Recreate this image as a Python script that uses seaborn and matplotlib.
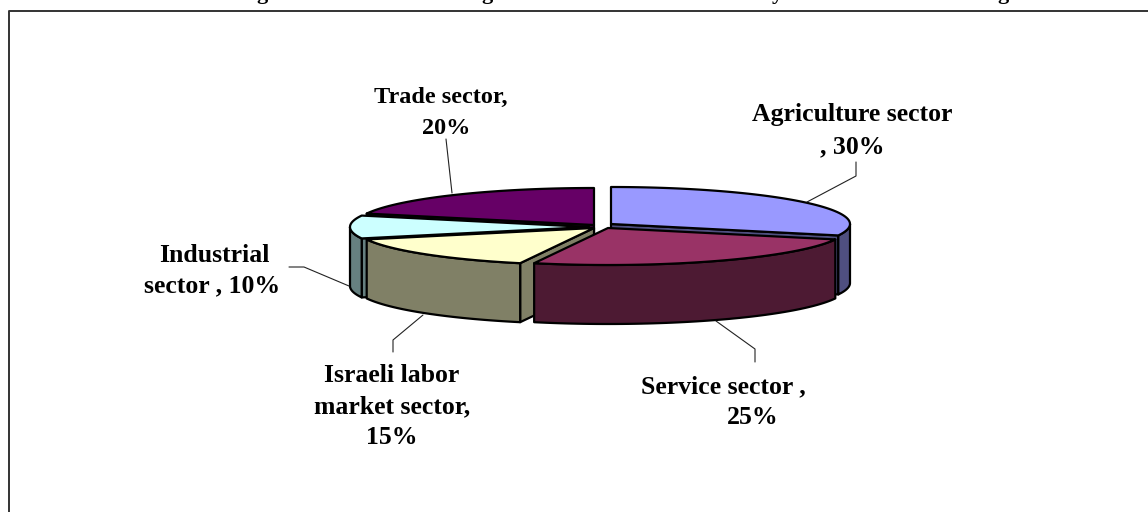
import numpy as np
import matplotlib
matplotlib.use("Agg")
import matplotlib.pyplot as plt
import seaborn as sns

# share of each sector, clockwise from 12 o'clock
sectors = ["Agriculture", "Service", "Israeli labor market", "Industrial", "Trade"]
shares = [30, 25, 15, 10, 20]
top_colors = ["#9999FF", "#993366", "#FFFFCC", "#CCFFFF", "#660066"]
side_colors = ["#4F4F80", "#4D1A33", "#808066", "#668080", "#330033"]
label_lines = [["Agriculture sector", ", 30%"],
               ["Service sector ,", "25%"],
               ["Israeli labor", "market sector,", "15%"],
               ["Industrial", "sector , 10%"],
               ["Trade sector,", "20%"]]
title_tails = ["g", "g", "y", "g"]

# layout, all in pixels of the 1148x512 canvas
apex = [(611, 224), (608, 228), (594, 228), (589, 227), (594, 225)]
rx, ry, depth = 239, 37, 59
draw_order = [4, 0, 3, 2, 1]
label_pos = [[(852, 115), (852, 147)],
             [(723, 387), (753, 418)],
             [(392, 376), (392, 407), (392, 438)],
             [(214, 255), (212, 286)],
             [(441, 97), (446, 129)]]
label_size = [18.5, 18.5, 18.5, 18.5, 17.5]
leaders = [[(807, 202), (856, 176), (856, 162)],
           [(716, 321), (755, 349), (755, 362)],
           [(423, 315), (393, 340), (393, 352)],
           [(349, 286), (304, 267), (289, 267)],
           [(452, 193), (446, 139)]]
tail_x = [262, 487, 777, 1003]

sns.set_theme(style="white")
plt.rcParams["font.family"] = ["Liberation Serif", "DejaVu Serif"]

fig = plt.figure(figsize=(11.48, 5.12), dpi=100)
ax = fig.add_axes([0, 0, 1, 1])
ax.set_xlim(0, 1148)
ax.set_ylim(512, 0)
ax.axis("off")


def rim(center, theta):
    t = np.radians(theta)
    return center[0] + rx * np.sin(t), center[1] - ry * np.cos(t)


edges = np.concatenate([[0], np.cumsum(shares)]) * 360 / sum(shares)

for i in draw_order:
    a0, a1 = edges[i], edges[i + 1]
    c = apex[i]
    # radial cut faces that look towards the viewer
    for ang, seen in [(a0, 180 < a0 < 360), (a1, 0 < a1 < 180)]:
        if seen:
            x, y = rim(c, ang)
            ax.fill([c[0], x, x, c[0]], [c[1], y, y + depth, c[1] + depth],
                    fc=side_colors[i], ec="black", lw=1.6, joinstyle="round")
    # outer wall, only the front half of the rim
    lo, hi = max(a0, 90), min(a1, 270)
    if lo < hi:
        th = np.linspace(lo, hi, 60)
        x, y = rim(c, th)
        ax.fill(np.r_[x, x[::-1]], np.r_[y, y[::-1] + depth],
                fc=side_colors[i], ec="black", lw=1.6, joinstyle="round")
    # top of the slice
    th = np.linspace(a0, a1, 80)
    x, y = rim(c, th)
    ax.fill(np.r_[c[0], x], np.r_[c[1], y],
            fc=top_colors[i], ec="black", lw=1.6, joinstyle="round")

for pts in leaders:
    xs, ys = zip(*pts)
    ax.plot(xs, ys, color="#222222", lw=0.8)

for lines, pos, size in zip(label_lines, label_pos, label_size):
    for txt, (x, y) in zip(lines, pos):
        ax.text(x, y, txt, ha="center", va="center", fontsize=size,
                fontweight="bold", color="black")

# frame of the page: only top and left edges are in the crop
ax.plot([8.5, 8.5, 1148], [512, 11, 11], color="#333333", lw=1.4)

# the title is cut off by the crop, only the descenders are left
for letter, x in zip(title_tails, tail_x):
    ax.text(x, -1, letter, ha="center", va="baseline", fontsize=16,
            fontweight="bold", color="black", clip_on=False)

fig.savefig("out.png", dpi=100, facecolor="white")
